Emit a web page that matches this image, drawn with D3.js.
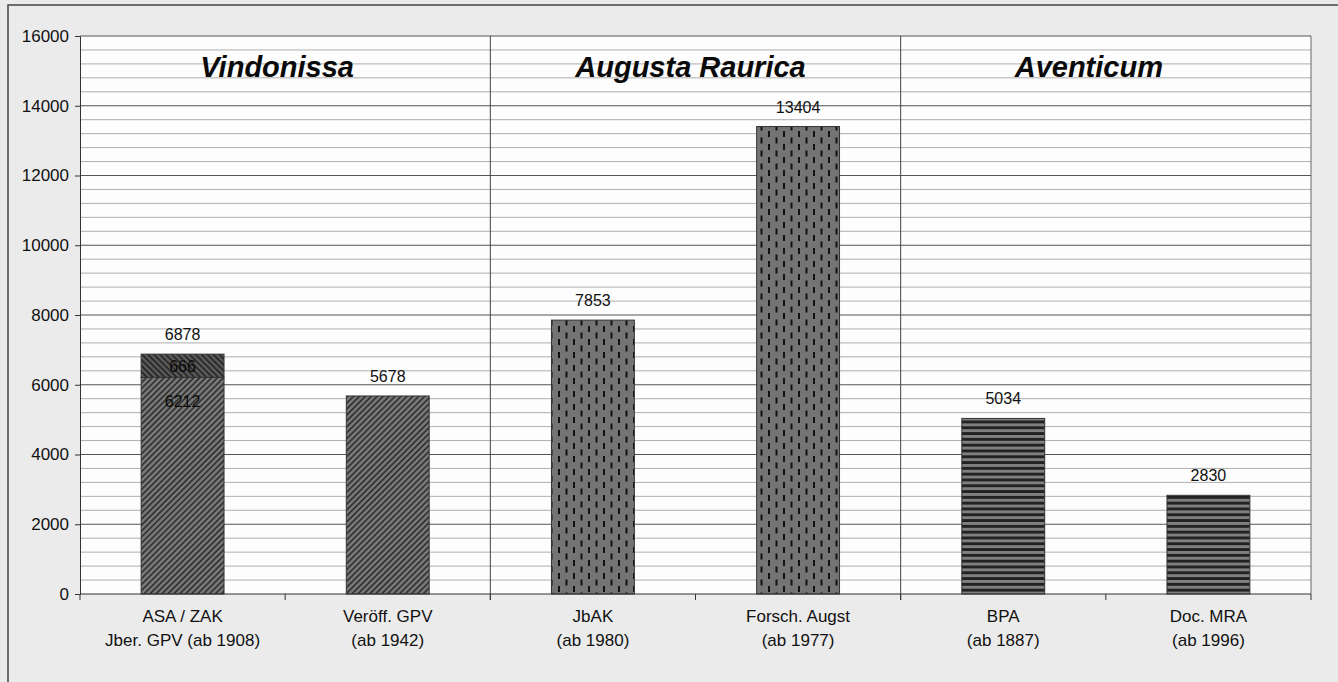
<!DOCTYPE html>
<html><head><meta charset="utf-8">
<script src="https://cdn.jsdelivr.net/npm/d3@7"></script>
<style>
html,body{margin:0;padding:0;background:#ebebeb;}
svg{display:block;font-family:"Liberation Sans",Arial,sans-serif;}
</style></head>
<body>
<svg id="chart" width="1338" height="682"></svg>
<script>
// ---- data ----
const categories = ["ASA / ZAK", "Veröff. GPV", "JbAK", "Forsch. Augst", "BPA", "Doc. MRA"];
const subtitles  = ["Jber. GPV (ab 1908)", "(ab 1942)", "(ab 1980)", "(ab 1977)", "(ab 1887)", "(ab 1996)"];
const groups     = ["Vindonissa", "Augusta Raurica", "Aventicum"];
const groupOf    = [0, 0, 1, 1, 2, 2];
const baseValues = [6212, 5678, 7853, 13404, 5034, 2830];
const extraValues = [666, 0, 0, 0, 0, 0];
const totals     = [6878, 5678, 7853, 13404, 5034, 2830];
const yTicks     = [0, 2000, 4000, 6000, 8000, 10000, 12000, 14000, 16000];

// ---- layout ----
const svg = d3.select("#chart");
const L = 80, R = 1311, T = 36, B = 594;

const defs = svg.append("defs");
function diag(id, base, line, angle) {
  const p = defs.append("pattern").attr("id", id).attr("patternUnits", "userSpaceOnUse")
    .attr("width", 4.2).attr("height", 4.2).attr("patternTransform", `rotate(${angle})`);
  p.append("rect").attr("width", 4.2).attr("height", 4.2).attr("fill", base);
  p.append("line").attr("x1", 1).attr("x2", 1).attr("y1", 0).attr("y2", 4.2)
    .attr("stroke", line).attr("stroke-width", 1.6);
}
diag("pV", "#7a7a7a", "#2b2b2b", 45);
diag("pV2", "#5a5a5a", "#222", -45);
{
  const p = defs.append("pattern").attr("id", "pA").attr("patternUnits", "userSpaceOnUse")
    .attr("width", 15).attr("height", 13);
  p.append("rect").attr("width", 15).attr("height", 13).attr("fill", "#747474");
  p.append("rect").attr("x", 3).attr("y", 1).attr("width", 2).attr("height", 6).attr("fill", "#111");
  p.append("rect").attr("x", 10.5).attr("y", 7.5).attr("width", 2).attr("height", 5.5).attr("fill", "#111");
  p.append("rect").attr("x", 10.5).attr("y", 0).attr("width", 2).attr("height", 0.5).attr("fill", "#111");
}
{
  const p = defs.append("pattern").attr("id", "pH").attr("patternUnits", "userSpaceOnUse")
    .attr("width", 6).attr("height", 5.8);
  p.append("rect").attr("width", 6).attr("height", 5.8).attr("fill", "#808080");
  p.append("rect").attr("y", 2.9).attr("width", 6).attr("height", 2.9).attr("fill", "#222");
}
const groupFill = ["url(#pV)", "url(#pA)", "url(#pH)"];

// outer frame
svg.append("rect").attr("x", 8).attr("y", 5).attr("width", 1400).attr("height", 800)
  .attr("fill", "none").attr("stroke", "#444").attr("stroke-width", 1.5);

// plot area
svg.append("rect").attr("x", L).attr("y", T).attr("width", R - L).attr("height", B - T)
  .attr("fill", "#fdfdfd");

const y = d3.scaleLinear().domain([0, 16000]).range([B, T]);
const x = d3.scaleBand().domain(categories).range([L, R]).padding(0);

// gridlines
const minor = d3.range(400, 16000, 400).filter(v => v % 2000 !== 0);
svg.append("g").selectAll("line").data(minor).join("line")
  .attr("x1", L).attr("x2", R).attr("y1", d => y(d)).attr("y2", d => y(d))
  .attr("stroke", "#9a9a9a").attr("stroke-width", 0.8);
svg.append("g").selectAll("line").data(yTicks.filter(v => v > 0)).join("line")
  .attr("x1", L).attr("x2", R).attr("y1", d => y(d)).attr("y2", d => y(d))
  .attr("stroke", "#555").attr("stroke-width", 1);

// right border
svg.append("line").attr("x1", R).attr("x2", R).attr("y1", T).attr("y2", B)
  .attr("stroke", "#666").attr("stroke-width", 1);

// group separators
const groupBounds = [2, 4].map(i => x(categories[i]));
svg.append("g").selectAll("line").data(groupBounds).join("line")
  .attr("x1", d => d).attr("x2", d => d).attr("y1", T).attr("y2", B + 6)
  .attr("stroke", "#444").attr("stroke-width", 1);

// bars
const bw = x.bandwidth() * 0.404;
const bx = c => x(c) + (x.bandwidth() - bw) / 2;
svg.append("g").selectAll("rect").data(categories).join("rect")
  .attr("x", d => bx(d)).attr("width", bw)
  .attr("y", (d, i) => y(baseValues[i])).attr("height", (d, i) => B - y(baseValues[i]))
  .attr("fill", (d, i) => groupFill[groupOf[i]])
  .attr("stroke", "#333").attr("stroke-width", 1);
svg.append("g").selectAll("rect").data(categories.filter((d, i) => extraValues[i] > 0)).join("rect")
  .attr("x", d => bx(d)).attr("width", bw)
  .attr("y", d => { const i = categories.indexOf(d); return y(baseValues[i] + extraValues[i]); })
  .attr("height", d => { const i = categories.indexOf(d); return y(baseValues[i]) - y(baseValues[i] + extraValues[i]); })
  .attr("fill", "url(#pV2)").attr("stroke", "#333").attr("stroke-width", 1);

// value labels
const fontVal = "16px";
svg.append("g").selectAll("text").data(categories).join("text")
  .attr("x", d => x(d) + x.bandwidth() / 2).attr("y", (d, i) => y(totals[i]) - 14)
  .attr("text-anchor", "middle").attr("font-size", fontVal).attr("fill", "#111")
  .text((d, i) => totals[i]);
categories.forEach((c, i) => {
  if (extraValues[i] > 0) {
    const cx = x(c) + x.bandwidth() / 2;
    svg.append("text").attr("x", cx).attr("y", (y(baseValues[i]) + y(totals[i])) / 2 + 6)
      .attr("text-anchor", "middle").attr("font-size", fontVal).attr("fill", "#0a0a0a").text(extraValues[i]);
    svg.append("text").attr("x", cx).attr("y", y(baseValues[i]) + 30)
      .attr("text-anchor", "middle").attr("font-size", fontVal).attr("fill", "#0a0a0a").text(baseValues[i]);
  }
});

// y axis
const yAxis = d3.axisLeft(y).tickValues(yTicks).tickSize(5).tickPadding(6).tickFormat(d3.format("d"));
const ya = svg.append("g").attr("transform", `translate(${L},0)`).call(yAxis)
  .attr("font-size", 17).attr("font-family", "Liberation Sans, Arial, sans-serif");
ya.select(".domain").attr("stroke", "#333");
ya.selectAll(".tick line").attr("stroke", "#333");
ya.selectAll("text").style("font-size", "17px").attr("fill", "#111");

// x axis
svg.append("line").attr("x1", L).attr("x2", R).attr("y1", B).attr("y2", B)
  .attr("stroke", "#333").attr("stroke-width", 1.2);
const bounds = categories.map(c => x(c)).concat([R]);
svg.append("g").selectAll("line").data(bounds).join("line")
  .attr("x1", d => d).attr("x2", d => d).attr("y1", B).attr("y2", B + 6)
  .attr("stroke", "#333");

// category labels
const xl = svg.append("g").selectAll("g").data(categories).join("g");
xl.append("text").attr("x", d => x(d) + x.bandwidth() / 2).attr("y", 622)
  .attr("text-anchor", "middle").attr("font-size", "17px").attr("fill", "#111").text(d => d);
xl.append("text").attr("x", d => x(d) + x.bandwidth() / 2).attr("y", 646)
  .attr("text-anchor", "middle").attr("font-size", "17px").attr("fill", "#111")
  .text((d, i) => subtitles[i]);

// group titles
const gCenters = groups.map((g, gi) => {
  const idx = categories.filter((c, i) => groupOf[i] === gi);
  return (x(idx[0]) + x(idx[idx.length - 1]) + x.bandwidth()) / 2;
});
const titleShift = [-8, -5, -17];
svg.append("g").selectAll("text").data(groups).join("text")
  .attr("x", (d, i) => gCenters[i] + titleShift[i]).attr("y", 77)
  .attr("text-anchor", "middle").attr("font-size", "29px").attr("font-weight", "bold")
  .attr("font-style", "italic").attr("fill", "#0a0a0a").text(d => d);
</script>
</body></html>
